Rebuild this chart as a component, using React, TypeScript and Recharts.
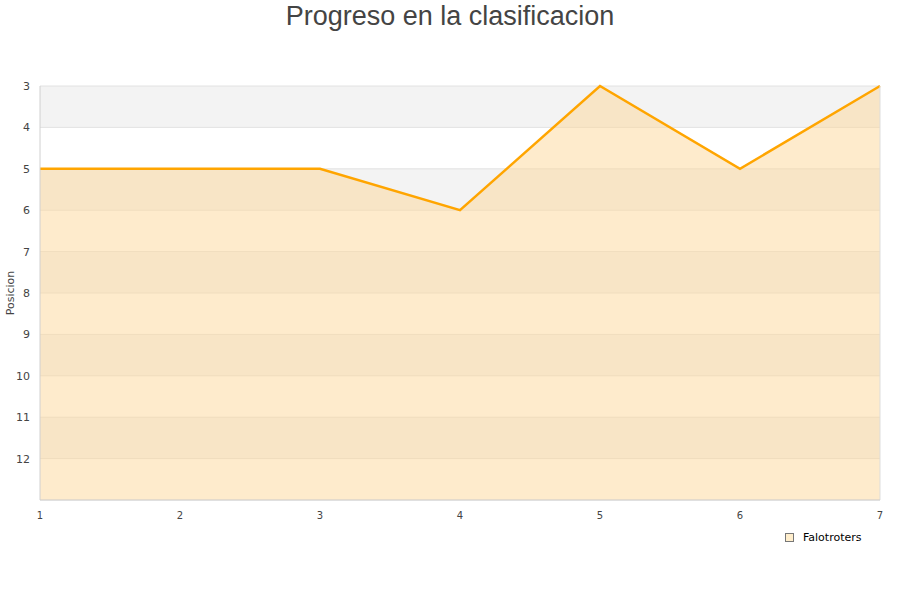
import { Area, AreaChart, CartesianGrid, ReferenceLine, XAxis, YAxis } from "recharts";

const jornadas = [1, 2, 3, 4, 5, 6, 7];
const posiciones = [5, 5, 5, 6, 3, 5, 3];
const yTicks = [3, 4, 5, 6, 7, 8, 9, 10, 11, 12, 13];

const data = jornadas.map((j, i) => ({ jornada: j, Falotroters: posiciones[i] }));

const tickStyle = { fontFamily: "DejaVu Sans", fontSize: 11, fill: "#444" };

export default function App() {
  return (
    <div style={{ position: "absolute", left: 0, top: 0, width: 900, height: 600, background: "#fff" }}>
      <div
        style={{
          position: "absolute",
          top: 0,
          left: 0,
          width: 900,
          textAlign: "center",
          fontFamily: "Liberation Sans",
          fontSize: 27,
          color: "#444",
          lineHeight: "32px",
        }}
      >
        Progreso en la clasificacion
      </div>
      <AreaChart width={900} height={600} data={data} margin={{ top: 86, right: 20, bottom: 70, left: 0 }}>
        <CartesianGrid
          vertical={false}
          stroke="#e2e2e2"
          strokeDasharray=""
          horizontalFill={["#f3f3f3", "#ffffff"]}
          fillOpacity={1}
        />
        <XAxis
          dataKey="jornada"
          type="number"
          domain={[1, 7]}
          ticks={jornadas}
          tick={{ ...tickStyle, fontSize: 10 }}
          tickLine={false}
          tickMargin={6}
          axisLine={{ stroke: "#d0d0d0" }}
          height={30}
        />
        <YAxis
          type="number"
          reversed
          domain={[3, 13]}
          ticks={yTicks}
          interval={0}
          tickFormatter={(v) => (v === 13 ? "" : String(v))}
          tick={tickStyle}
          tickLine={false}
          tickSize={8}
          axisLine={{ stroke: "#d0d0d0" }}
          width={40}
          label={{
            value: "Posicion",
            angle: -90,
            position: "insideLeft",
            offset: 10,
            style: { fontFamily: "DejaVu Sans", fontSize: 11, fill: "#444", textAnchor: "middle" },
          }}
        />
        <ReferenceLine x={7} stroke="#dddddd" />
        <Area
          type="linear"
          dataKey="Falotroters"
          baseValue="dataMax"
          stroke="#ffa500"
          strokeWidth={2.5}
          fill="#fdd89a"
          fillOpacity={0.5}
          dot={false}
          activeDot={false}
          isAnimationActive={false}
        />
      </AreaChart>
      <div
        style={{
          position: "absolute",
          left: 785,
          top: 531,
          display: "flex",
          alignItems: "center",
          fontFamily: "DejaVu Sans",
          fontSize: 11,
          color: "#000",
        }}
      >
        <span style={{ width: 7, height: 7, border: "1px solid #777", background: "#ffeecc", marginRight: 9 }} />
        Falotroters
      </div>
    </div>
  );
}
